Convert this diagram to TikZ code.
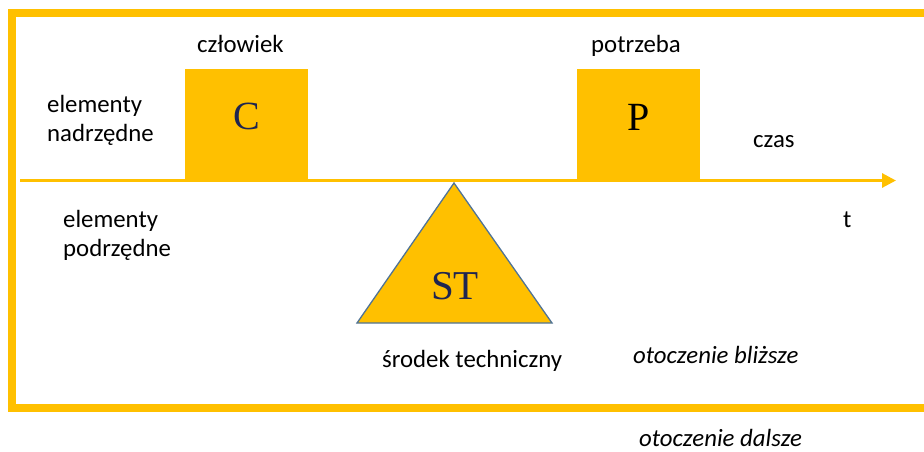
\documentclass[tikz,border=0pt]{standalone}
\usepackage{fontspec}
\setmainfont{Carlito}
\newfontfamily\serifletters{Liberation Serif}
\usetikzlibrary{arrows.meta}
\definecolor{gold}{HTML}{FFC000}
\definecolor{navy}{HTML}{1F2550}
\definecolor{edgeblue}{HTML}{4F7396}
\tikzset{
  lbl/.style={anchor=base west,inner sep=0pt,font=\fontsize{24.8}{28}\selectfont,text=black},
  ilbl/.style={lbl,font=\fontsize{24.8}{28}\selectfont\itshape},
  bigletter/.style={anchor=base,inner sep=0pt,font=\serifletters\fontsize{40}{44}\selectfont},
  goldbox/.style={fill=gold,draw=none},
}
\begin{document}
\begin{tikzpicture}[x=1pt,y=-1pt]
\useasboundingbox (0,0) rectangle (924,451);
% frame (otoczenie)
\draw[gold,line width=8pt] (924,13) -- (12,13) -- (12,407.5) -- (924,407.5);
% boxes
\fill[goldbox] (185,69) rectangle (308,180.5);
\fill[goldbox] (577,69) rectangle (700,180.5);
% time axis
\coordinate (axs) at (20,180.5);
\coordinate (axe) at (896,180.5);
\draw[gold,line width=3pt,-{Triangle[length=14pt,width=14pt]}] (axs) -- (axe);
% triangle
\draw[fill=gold,draw=edgeblue,line width=1.3pt,line join=miter] (454,183) -- (357,323) -- (552,323) -- cycle;
% letters
\node[bigletter,text=navy] (c) at (247,129) {C};
\node[bigletter,text=black] (p) at (639,130) {P};
\node[bigletter,text=navy,font=\serifletters\fontsize{41}{45}\selectfont] (st) at (455,299) {ST};
% labels
\node[lbl] (czl) at (197,52) {człowiek};
\node[lbl] (potr) at (591,52) {potrzeba};
\node[lbl] (el1) at (47,112) {elementy};
\node[lbl] (nad) at (47,141) {nadrzędne};
\node[lbl] (czas) at (753,147) {czas};
\node[lbl] (el2) at (63,227) {elementy};
\node[lbl] (pod) at (63,256) {podrzędne};
\node[lbl] (t) at (843,227) {t};
\node[lbl] (srod) at (382,367) {środek techniczny};
\node[ilbl] (blz) at (633,363) {otoczenie bliższe};
\node[ilbl,text depth=0pt] (dal) at (639,446) {otoczenie dalsze};
\end{tikzpicture}
\end{document}
